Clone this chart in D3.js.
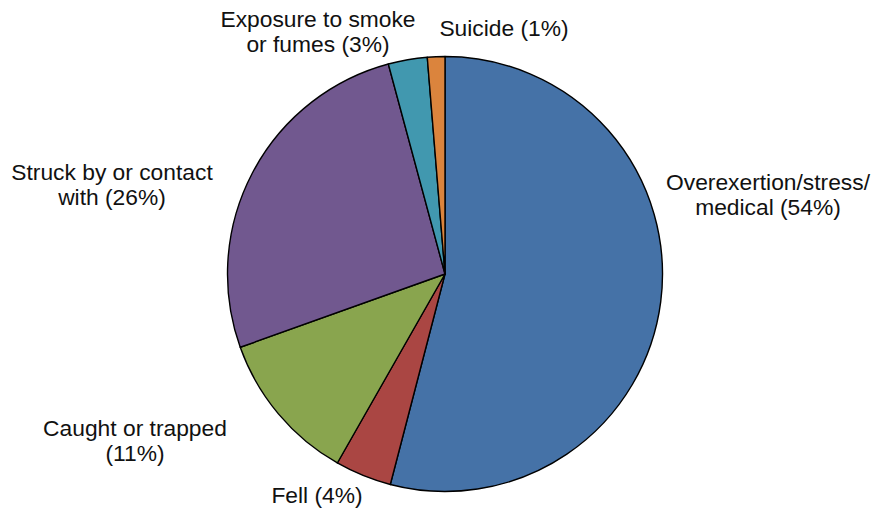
<!DOCTYPE html>
<html>
<head>
<meta charset="utf-8">
<script src="https://cdn.jsdelivr.net/npm/d3@7"></script>
<style>
  body { margin: 0; background: #fff; }
  text { font-family: Arial, "Liberation Sans", Helvetica, sans-serif; font-size: 22.8px; fill: #111; }
</style>
</head>
<body>
<div id="chart"></div>
<script>
// data (percent of total), clockwise from 12 o'clock
const categories = ["Overexertion/stress/medical", "Fell", "Caught or trapped",
  "Struck by or contact with", "Exposure to smoke or fumes", "Suicide"];
const values = [54.1, 4.2, 11.3, 26.3, 2.9, 1.3];
const labels = [
  ["Overexertion/stress/", "medical (54%)"],
  ["Fell (4%)"],
  ["Caught or trapped", "(11%)"],
  ["Struck by or contact", "with (26%)"],
  ["Exposure to smoke", "or fumes (3%)"],
  ["Suicide (1%)"]
];
const colors = ["#4572A7", "#AA4643", "#89A54E", "#71588F", "#4198AF", "#DB843D"];

const width = 876, height = 513;
const cx = 445, cy = 274, r = 217.5;

const svg = d3.select("#chart").append("svg")
  .attr("width", width).attr("height", height);

const color = d3.scaleOrdinal().domain(categories).range(colors);

const pie = d3.pie().sort(null).value(d => d.value);
const arcs = pie(categories.map((c, i) => ({ name: c, value: values[i], label: labels[i] })));
const arc = d3.arc().innerRadius(0).outerRadius(r);

const g = svg.append("g").attr("transform", `translate(${cx},${cy})`);

g.selectAll("path")
  .data(arcs)
  .join("path")
  .attr("d", arc)
  .attr("fill", d => color(d.data.name))
  .attr("stroke", "#000")
  .attr("stroke-width", 1.4)
  .attr("stroke-linejoin", "round");

// label anchors (center x, first baseline y)
const labelPos = {
  "Overexertion/stress/medical": [768, 190],
  "Fell": [317, 503],
  "Caught or trapped": [135, 436],
  "Struck by or contact with": [112, 180],
  "Exposure to smoke or fumes": [318, 27],
  "Suicide": [504, 36]
};

const lab = svg.selectAll("text.lbl")
  .data(arcs)
  .join("text")
  .attr("class", "lbl")
  .attr("text-anchor", "middle")
  .attr("x", d => labelPos[d.data.name][0])
  .attr("y", d => labelPos[d.data.name][1]);

lab.selectAll("tspan")
  .data(d => d.data.label.map((t, i) => ({ t, i, x: labelPos[d.data.name][0] })))
  .join("tspan")
  .attr("x", d => d.x)
  .attr("dy", d => d.i === 0 ? 0 : 25.2)
  .text(d => d.t);
</script>
</body>
</html>
